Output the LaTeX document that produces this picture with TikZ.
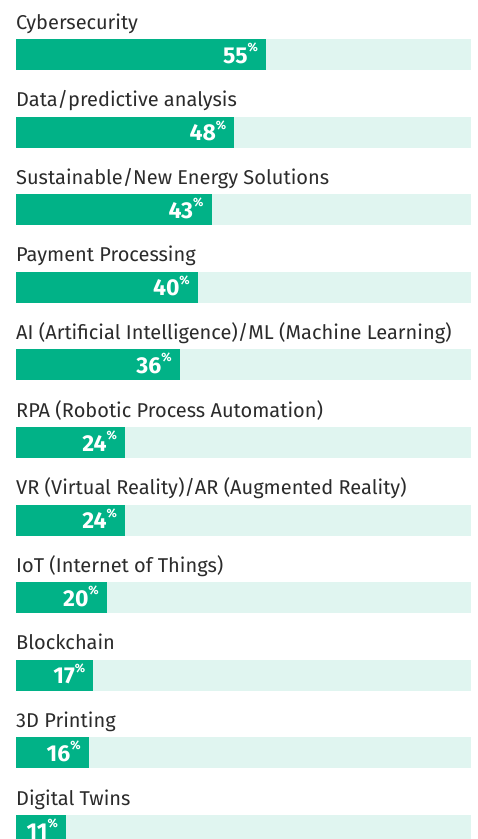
\documentclass[tikz,border=0pt]{standalone}
\usepackage{fontspec}
\setmainfont{Fira Sans}
\definecolor{hpegreen}{HTML}{01B287}
\definecolor{barbg}{HTML}{E0F5F0}
\definecolor{labelgray}{HTML}{2B2B2B}
\tikzset{
  bglane/.style={fill=barbg, draw=none},
  fillbar/.style={fill=hpegreen, draw=none},
  catlabel/.style={anchor=base west, inner sep=0pt, text=labelgray, font=\fontsize{20}{22}\selectfont},
  pctlabel/.style={anchor=base east, inner sep=0pt, text=white, font=\bfseries\fontsize{23}{25}\selectfont},
}
\newcommand{\pctval}[1]{#1\raisebox{0.5em}{\fontsize{12}{13}\selectfont\%}}
\begin{document}
\begin{tikzpicture}[x=1pt,y=-1pt]
\useasboundingbox (0,0) rectangle (478,839);
\foreach \i/\lab/\v in {
  0/Cybersecurity/55,
  1/Data\slash predictive analysis/48,
  2/Sustainable\slash New Energy Solutions/43,
  3/Payment Processing/40,
  4/AI (Artificial Intelligence)\slash ML (Machine Learning)/36,
  5/RPA (Robotic Process Automation)/24,
  6/VR (Virtual Reality)\slash AR (Augmented Reality)/24,
  7/IoT (Internet of Things)/20,
  8/Blockchain/17,
  9/3D Printing/16,
  10/Digital Twins/11}
{
  \pgfmathsetmacro{\top}{39+77.6*\i}
  \pgfmathsetmacro{\gend}{16+4.55*\v}
  \fill[bglane] (16,\top) rectangle (471,\top+31);
  \fill[fillbar] (16,\top) rectangle (\gend,\top+31);
  \node[catlabel] (lab\i) at (16,\top-10) {\lab};
  \node[pctlabel] (pct\i) at (\gend-8,\top+24) {\pctval{\v}};
}
\end{tikzpicture}
\end{document}
